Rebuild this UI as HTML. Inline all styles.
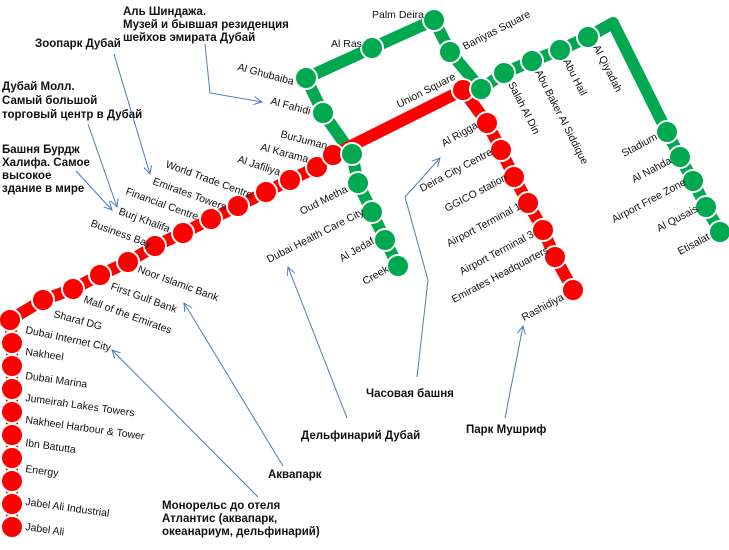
<!DOCTYPE html>
<html><head><meta charset="utf-8"><style>
html,body{margin:0;padding:0;background:#fff;}
svg{display:block;}
.l{font-family:"Liberation Sans","DejaVu Sans",sans-serif;font-size:10.5px;fill:#111;}
.a{font-family:"Liberation Sans","DejaVu Sans",sans-serif;font-size:11.5px;font-weight:bold;fill:#111;}
</style></head><body>
<svg width="729" height="550" viewBox="0 0 729 550" xmlns="http://www.w3.org/2000/svg">
<defs><marker id="ar" markerWidth="10" markerHeight="10" refX="9" refY="5" orient="auto" markerUnits="userSpaceOnUse"><path d="M1,1 L9,5 L1,9" fill="none" stroke="#4a7ebb" stroke-width="1"/></marker></defs>
<g fill="none" stroke="#00a94f" stroke-width="12" stroke-linejoin="round">
<polyline points="398,266 385,240 372,212 358,183 352,154 323,113 306,78 372,48 434,20 450,52 481,89 504,73 532,61 560,50 588,37 613,23 667,132 680,157 693,181 706,207 720,232"/>
</g>
<g fill="none" stroke="#f00" stroke-width="12" stroke-linejoin="round">
<polyline points="12,527 12,343 10,320 43,300 73,289 100,275 128,262 155,246 183,233 211,219 238,206 266,192 290,180 317,167 333,155 463,90 487,123 501,150 514,177 528,203 543,230 555,257 573,290"/>
</g>
<g stroke="#fff" stroke-width="2">
<g fill="#00a94f">
<circle cx="398" cy="266" r="11"/><circle cx="385" cy="240" r="11"/><circle cx="372" cy="212" r="11"/><circle cx="358" cy="183" r="11"/><circle cx="323" cy="113" r="11"/><circle cx="306" cy="78" r="11"/><circle cx="372" cy="48" r="11"/><circle cx="434" cy="20" r="11"/><circle cx="450" cy="52" r="11"/><circle cx="504" cy="73" r="11"/><circle cx="532" cy="61" r="11"/><circle cx="560" cy="50" r="11"/><circle cx="588" cy="37" r="11"/><circle cx="667" cy="132" r="11"/><circle cx="680" cy="157" r="11"/><circle cx="693" cy="181" r="11"/><circle cx="706" cy="207" r="11"/><circle cx="720" cy="232" r="11"/>
</g>
<g fill="#f00">
<circle cx="12" cy="527" r="11"/><circle cx="12" cy="504" r="11"/><circle cx="12" cy="481" r="11"/><circle cx="12" cy="458" r="11"/><circle cx="12" cy="435" r="11"/><circle cx="12" cy="412" r="11"/><circle cx="12" cy="389" r="11"/><circle cx="12" cy="366" r="11"/><circle cx="12" cy="343" r="11"/><circle cx="10" cy="320" r="11"/>
<circle cx="43" cy="300" r="11"/><circle cx="73" cy="289" r="11"/><circle cx="100" cy="275" r="11"/><circle cx="128" cy="262" r="11"/><circle cx="155" cy="246" r="11"/><circle cx="183" cy="233" r="11"/><circle cx="211" cy="219" r="11"/><circle cx="238" cy="206" r="11"/><circle cx="266" cy="192" r="11"/><circle cx="290" cy="180" r="11"/><circle cx="317" cy="167" r="11"/><circle cx="333" cy="155" r="11"/>
<circle cx="463" cy="90" r="11"/><circle cx="487" cy="123" r="11"/><circle cx="501" cy="150" r="11"/><circle cx="514" cy="177" r="11"/><circle cx="528" cy="203" r="11"/><circle cx="543" cy="230" r="11"/><circle cx="555" cy="257" r="11"/><circle cx="573" cy="290" r="11"/>
</g>
<circle cx="352" cy="154" r="11" fill="#00a94f"/><circle cx="481" cy="89" r="11" fill="#00a94f"/>
</g>
<g class="l">
<text x="372" y="18">Palm Deira</text>
<text x="331" y="47">Al Ras</text>
<text transform="translate(237,70) rotate(15)">Al Ghubaiba</text>
<text transform="translate(270,104) rotate(15)">Al Fahidi</text>
<text transform="translate(280,137) rotate(15)">BurJuman</text>
<text transform="translate(260,150) rotate(15)">Al Karama</text>
<text transform="translate(237,162) rotate(18)">Al Jafiliya</text>
<text transform="translate(165,167) rotate(20)">World Trade Centre</text>
<text transform="translate(152,184) rotate(20)">Emirates Towers</text>
<text transform="translate(125,194) rotate(20)">Financial Centre</text>
<text transform="translate(118,214) rotate(20)">Burj Khalifa</text>
<text transform="translate(90,226) rotate(20)">Business Bay</text>
<text transform="translate(137,272) rotate(20)">Noor Islamic Bank</text>
<text transform="translate(110,289) rotate(20)">First Gulf Bank</text>
<text transform="translate(83,302) rotate(20)">Mall of the Emirates</text>
<text transform="translate(53,317) rotate(15)">Sharaf DG</text>
<text transform="translate(25,333) rotate(12)">Dubai Internet City</text>
<text transform="translate(25,355) rotate(8)">Nakheel</text>
<text transform="translate(25,379) rotate(8)">Dubai Marina</text>
<text transform="translate(25,401) rotate(8)">Jumeirah Lakes Towers</text>
<text transform="translate(25,423) rotate(8)">Nakheel Harbour &amp; Tower</text>
<text transform="translate(25,446) rotate(8)">Ibn Batutta</text>
<text transform="translate(25,472) rotate(8)">Energy</text>
<text transform="translate(25,505) rotate(8)">Jabel Ali Industrial</text>
<text transform="translate(25,530) rotate(8)">Jabel Ali</text>
<text transform="translate(302,215) rotate(-27)">Oud Metha</text>
<text transform="translate(269,263) rotate(-27)">Dubai Health Care City</text>
<text transform="translate(342,262) rotate(-30)">Al Jedaf</text>
<text transform="translate(365,285) rotate(-30)">Creek</text>
<text transform="translate(399,108) rotate(-27)">Union Square</text>
<text transform="translate(465,50) rotate(-27)">Baniyas Square</text>
<text transform="translate(444,147) rotate(-30)">Al Rigga</text>
<text transform="translate(422,192) rotate(-28)">Deira City Centre</text>
<text transform="translate(447,212) rotate(-28)">GGICO station</text>
<text transform="translate(449,247) rotate(-28)">Airport Terminal 1</text>
<text transform="translate(462,275) rotate(-28)">Airport Terminal 3</text>
<text transform="translate(454,303) rotate(-28)">Emirates Headquarters</text>
<text transform="translate(524,321) rotate(-28)">Rashidiya</text>
<text transform="translate(624,157) rotate(-28)">Stadium</text>
<text transform="translate(634,183) rotate(-28)">Al Nahda</text>
<text transform="translate(614,223) rotate(-28)">Airport Free Zone</text>
<text transform="translate(659,232) rotate(-28)">Al Qusais</text>
<text transform="translate(680,255) rotate(-28)">Etisalat</text>
<text transform="translate(508,84) rotate(63)">Salah Al Din</text>
<text transform="translate(535,72) rotate(63)">Abu Baker Al Siddique</text>
<text transform="translate(563,61) rotate(63)">Abu Hail</text>
<text transform="translate(593,47) rotate(63)">Al Qiyadah</text>
</g>
<g class="a">
<text x="123" y="15">Аль Шиндажа.</text>
<text x="123" y="28">Музей и бывшая резиденция</text>
<text x="123" y="41">шейхов эмирата Дубай</text>
<text x="35" y="47">Зоопарк Дубай</text>
<text x="2" y="90">Дубай Молл.</text>
<text x="2" y="104">Самый большой</text>
<text x="2" y="118">торговый центр в Дубай</text>
<text x="2" y="153">Башня Бурдж</text>
<text x="2" y="166">Халифа. Самое</text>
<text x="2" y="179">высокое</text>
<text x="2" y="192">здание в мире</text>
<text x="366" y="397">Часовая башня</text>
<text x="301" y="439">Дельфинарий Дубай</text>
<text x="466" y="433">Парк Мушриф</text>
<text x="268" y="478">Аквапарк</text>
<text x="162" y="509">Монорельс до отеля</text>
<text x="162" y="522">Атлантис (аквапарк,</text>
<text x="162" y="535">океанариум, дельфинарий)</text>
</g>
<g fill="none" stroke="#4a7ebb" stroke-width="1" marker-end="url(#ar)">
<polyline points="205,44 210,93 262,102"/>
<line x1="114" y1="54" x2="150" y2="174"/>
<line x1="88" y1="124" x2="117" y2="207"/>
<line x1="76" y1="171" x2="112" y2="210"/>
<line x1="347" y1="418" x2="288" y2="267"/>
<line x1="283" y1="466" x2="184" y2="303"/>
<line x1="258" y1="497" x2="112" y2="350"/>
<polyline points="417,377 428,280 405,197 440,158"/>
<line x1="505" y1="418" x2="523" y2="326"/>
</g>
</svg>
</body></html>
